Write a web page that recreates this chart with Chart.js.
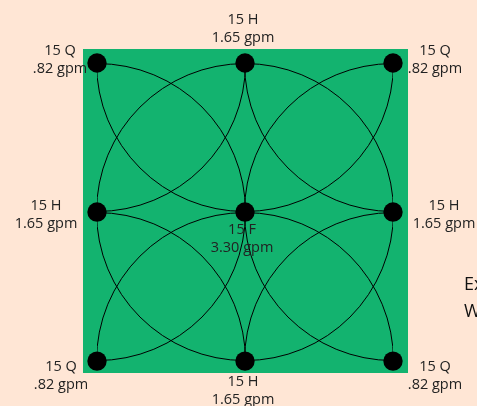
<!DOCTYPE html>
<html><head><meta charset="utf-8">
<style>html,body{margin:0;padding:0;background:#FFE6D5;overflow:hidden}#w{width:477px;height:406px}</style>
<script src="https://cdn.jsdelivr.net/npm/chart.js@4"></script></head>
<body><div id="w"><canvas id="c"></canvas></div>
<script>
// Sprinkler heads, feet on a 30 x 30 ft layout
const headX = [0, 15, 30, 0, 15, 30, 0, 15, 30];
const headY = [30, 30, 30, 15, 15, 15, 0, 0, 0];
const nozzles = ['15 Q','15 H','15 Q','15 H','15 F','15 H','15 Q','15 H','15 Q'];
const flows = ['.82 gpm','1.65 gpm','.82 gpm','1.65 gpm','3.30 gpm','1.65 gpm','.82 gpm','1.65 gpm','.82 gpm'];
const sideTexts = ['Ex','W'];

const points = headX.map((x,i)=>({x, y:headY[i]}));
// label centre offsets from each head, px (first line middle)
const labelDX = [-37,-2,42,-51,-3,51,-36,-2,42];
const labelDY = [-12,-43,-12,-6,18,-6,6,21,6];

const labelsPlugin = {
  id:'labels',
  afterDatasetsDraw(chart){
    const {ctx, scales:{x,y}} = chart;
    ctx.save();
    ctx.fillStyle='#222';
    ctx.font='14.5px "Open Sans"';
    ctx.textAlign='center';
    ctx.textBaseline='middle';
    points.forEach((p,i)=>{
      const px=x.getPixelForValue(p.x)+labelDX[i], py=y.getPixelForValue(p.y)+labelDY[i];
      ctx.fillText(nozzles[i],px,py);
      ctx.fillText(flows[i],px,py+18);
    });
    ctx.fillStyle='#111';
    ctx.font='18px "Open Sans"';
    ctx.textAlign='left';
    ctx.fillText(sideTexts[0],464,285);
    ctx.fillText(sideTexts[1],464,312);
    ctx.restore();
  }
};
const areaPlugin = {
  id:'area',
  beforeDraw(chart){
    const {ctx, chartArea:a} = chart;
    ctx.save();
    ctx.fillStyle='#13B36F';
    ctx.fillRect(a.left,a.top,a.right-a.left,a.bottom-a.top);
    ctx.restore();
  }
};
new Chart(document.getElementById('c'),{
  type:'scatter',
  data:{datasets:[
    {data:points,pointRadius:148.5,pointHoverRadius:148.5,backgroundColor:'rgba(0,0,0,0)',borderColor:'#000',pointBorderWidth:1,
     clip:{left:-14,right:-15,top:-14,bottom:-12}},
    {data:points,pointRadius:9.7,pointHoverRadius:9.7,backgroundColor:'#000',borderColor:'#000',pointBorderWidth:0}
  ]},
  options:{
    responsive:true,maintainAspectRatio:false,animation:false,
    layout:{autoPadding:false,padding:{left:83,right:69,top:49,bottom:33}},
    plugins:{legend:{display:false},tooltip:{enabled:false}},
    scales:{
      x:{display:false,min:-1.42,max:31.52},
      y:{display:false,min:-1.2,max:31.41}
    }
  },
  plugins:[areaPlugin,labelsPlugin]
});
</script></body></html>
